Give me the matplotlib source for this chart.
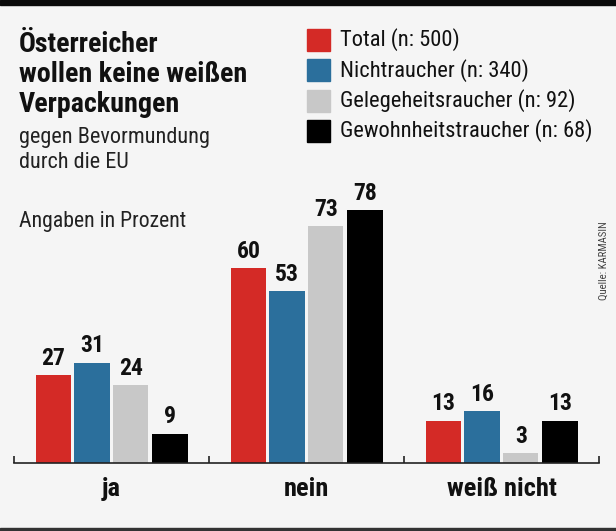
import matplotlib

matplotlib.use("Agg")
import matplotlib.pyplot as plt  # noqa: E402
from matplotlib import font_manager  # noqa: E402
from matplotlib.patches import Rectangle  # noqa: E402

BG = "#f5f5f5"
INK = "#111111"
RED = "#d42a26"
BLUE = "#2b6f9c"
GRAY = "#c8c8c8"
BLACK = "#000000"

categories = ["ja", "nein", "weiß nicht"]
series = ["Total (n: 500)", "Nichtraucher (n: 340)",
          "Gelegeheitsraucher (n: 92)", "Gewohnheitstraucher (n: 68)"]
total = [27, 60, 13]
nichtraucher = [31, 53, 16]
gelegenheit = [24, 73, 3]
gewohnheit = [9, 78, 13]
colors = [RED, BLUE, GRAY, BLACK]
title_lines = ["Österreicher", "wollen keine weißen", "Verpackungen"]
subtitle_lines = ["gegen Bevormundung", "durch die EU"]


def pick_condensed():
    narrow = {}
    for f in font_manager.fontManager.ttflist:
        if f.stretch in ("condensed", "semi-condensed", "extra-condensed") \
                or "Narrow" in f.name or "Condensed" in f.name:
            narrow.setdefault(f.name, set()).add(str(f.weight))
    for name in ("Liberation Sans Narrow", "Roboto Condensed", "Open Sans Condensed",
                 "Noto Sans", "Noto Sans Condensed", "DejaVu Sans Condensed", "DejaVu Sans"):
        if name in narrow:
            return name, "condensed"
    return "Roboto", "normal"


FAMILY, STRETCH = pick_condensed()
FONT = dict(family=[FAMILY, "DejaVu Sans"], fontstretch=STRETCH)

W, H = 616, 531
fig = plt.figure(figsize=(W / 100, H / 100), dpi=100, facecolor=BG)


def px(x, y):
    return x / W, 1 - y / H


# frame bands
fig.patches.append(Rectangle((0, 1 - 5 / H), 1, 5 / H, transform=fig.transFigure,
                             color="#0a0a0a", zorder=0))
fig.patches.append(Rectangle((0, 0), 1, 3 / H, transform=fig.transFigure,
                             color="#333333", zorder=0))

ax = fig.add_axes([14 / W, 68 / H, 585 / W, 283 / H], facecolor=BG)
ax.set_xlim(-0.5, 2.5)
ax.set_ylim(0, 87.3)

offsets = [-0.298, -0.100, 0.099, 0.300]
for values, color, off in zip([total, nichtraucher, gelegenheit, gewohnheit], colors, offsets):
    xs = [i + off for i in range(len(categories))]
    ax.bar(xs, values, width=0.18, color=color, zorder=2)
    for x, v in zip(xs, values):
        ax.annotate(str(v), (x, v), xytext=(0, 4), textcoords="offset points",
                    ha="center", va="bottom", fontsize=17, fontweight="bold",
                    color=INK, **FONT)

for side in ("top", "right", "left"):
    ax.spines[side].set_visible(False)
ax.spines["bottom"].set_color("#222222")
ax.spines["bottom"].set_linewidth(1.2)
ax.set_yticks([])
ax.set_xticks(range(len(categories)))
ax.set_xticklabels(categories, fontsize=19, fontweight="bold", color=INK, **FONT)
ax.tick_params(axis="x", which="major", length=0, pad=10)
ax.set_xticks([-0.5, 0.5, 1.5, 2.5], minor=True)
ax.tick_params(axis="x", which="minor", direction="in", length=5, width=1.2, color="#222222")

# title block
title = [fig.text(*px(19, 45 + 29.5 * i), line, fontsize=22, fontweight="bold",
                  color=INK, va="center", ha="left", **FONT)
         for i, line in enumerate(title_lines)]
subtitle = [fig.text(*px(19, 138 + 25 * i), line, fontsize=17, color="#222222",
                     va="center", ha="left", **FONT)
            for i, line in enumerate(subtitle_lines)]
unit = fig.text(*px(19, 221), "Angaben in Prozent", fontsize=17, color="#222222",
                va="center", ha="left", **FONT)

# legend
legend = []
for i, (label, color) in enumerate(zip(series, colors)):
    y = 40 + 30.3 * i
    fig.patches.append(Rectangle(px(307, y + 11), 23 / W, 22 / H,
                                 transform=fig.transFigure, color=color))
    legend.append(fig.text(*px(340, y), label, fontsize=18, color=INK,
                           va="center", ha="left", **FONT))

source = fig.text(*px(604, 261), "Quelle: KARMASIN", fontsize=10, color="#444444",
                  rotation=90, va="center", ha="center", **FONT)

# shrink text groups to the widths they take in the reference
fig.canvas.draw()
renderer = fig.canvas.get_renderer()
for group, target in ((title, 228), (subtitle, 190), ([unit], 167), (legend, 252)):
    widest = max(t.get_window_extent(renderer).width for t in group)
    if widest > target:
        for t in group:
            t.set_fontsize(t.get_fontsize() * target / widest)
span = source.get_window_extent(renderer).height
if span > 78:
    source.set_fontsize(source.get_fontsize() * 78 / span)

fig.savefig("out.png", dpi=100, facecolor=BG)
